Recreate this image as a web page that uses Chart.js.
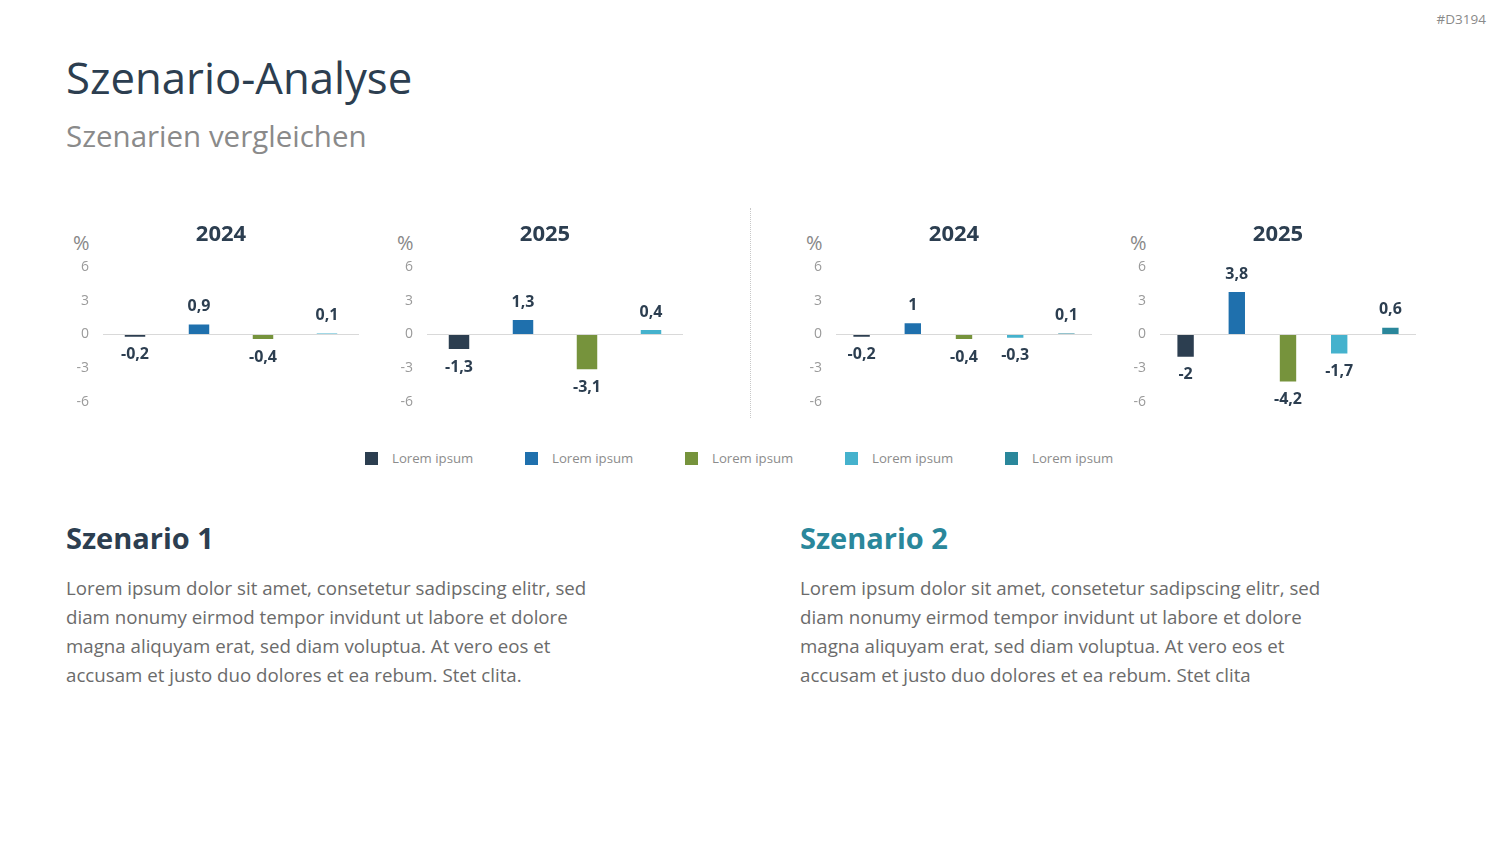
<!DOCTYPE html>
<html>
<head>
<meta charset="utf-8">
<script src="https://cdn.jsdelivr.net/npm/chart.js@4"></script>
<style>
  html, body { margin: 0; padding: 0; background: #fff; }
  body { width: 1500px; height: 844px; position: relative; overflow: hidden; font-family: "Open Sans", sans-serif; }
  .abs { position: absolute; white-space: nowrap; }
  .box { position: absolute; top: 212px; width: 310px; height: 212px; }
  .pct { position: absolute; top: 229px; font-size: 20px; color: #888; line-height: 28px; }
  .legend { position: absolute; top: 449px; left: 365px; display: flex; }
  .legend .item { width: 160px; display: flex; align-items: center; font-size: 13.2px; color: #8c8c8c; }
  .legend .sw { width: 13px; height: 13px; margin-right: 14px; }
  .para { position: absolute; top: 573px; font-size: 18.7px; line-height: 29px; color: #6b6b6b; white-space: nowrap; }
</style>
</head>
<body>

<div class="abs" style="right:14px; top:10px; font-size:13.5px; color:#8a8a8a;">#D3194</div>
<div class="abs" style="left:66px; top:49px; font-size:43.7px; line-height:56px; color:#2c3e50;">Szenario-Analyse</div>
<div class="abs" style="left:66px; top:116px; font-size:29.5px; line-height:40px; color:#8a8a8a;">Szenarien vergleichen</div>

<div class="pct" style="left:73px;">%</div>
<div class="pct" style="left:397px;">%</div>
<div class="pct" style="left:806px;">%</div>
<div class="pct" style="left:1130px;">%</div>

<div class="box" style="left:66px;"><canvas id="c1"></canvas></div>
<div class="box" style="left:390px;"><canvas id="c2"></canvas></div>
<div class="box" style="left:799px;"><canvas id="c3"></canvas></div>
<div class="box" style="left:1123px;"><canvas id="c4"></canvas></div>

<div style="position:absolute; left:750px; top:208px; height:210px; border-left:1px dotted #c8c8c8;"></div>

<div class="legend" id="legend"></div>

<div class="abs" style="left:66px; top:517px; font-size:29px; line-height:42px; font-weight:bold; color:#2c3e50;">Szenario 1</div>
<div class="abs" style="left:800px; top:517px; font-size:29px; line-height:42px; font-weight:bold; color:#2a879b;">Szenario 2</div>

<div class="para" style="left:66px;">Lorem ipsum dolor sit amet, consetetur sadipscing elitr, sed<br>diam nonumy eirmod tempor invidunt ut labore et dolore<br>magna aliquyam erat, sed diam voluptua. At vero eos et<br>accusam et justo duo dolores et ea rebum. Stet clita.</div>
<div class="para" style="left:800px;">Lorem ipsum dolor sit amet, consetetur sadipscing elitr, sed<br>diam nonumy eirmod tempor invidunt ut labore et dolore<br>magna aliquyam erat, sed diam voluptua. At vero eos et<br>accusam et justo duo dolores et ea rebum. Stet clita</div>

<script>
// categories and colours
const categories = ["Lorem ipsum", "Lorem ipsum", "Lorem ipsum", "Lorem ipsum", "Lorem ipsum"];
const colors = ["#2c3e50", "#1f70ad", "#76933c", "#45b2cd", "#2a879b"];

// scenario 1 (4 categories)
const sz1_2024 = [-0.2, 0.9, -0.4, 0.1];
const sz1_2025 = [-1.3, 1.3, -3.1, 0.4];

// scenario 2 (5 categories)
const sz2_2024 = [-0.2, 1, -0.4, -0.3, 0.1];
const sz2_2025 = [-2, 3.8, -4.2, -1.7, 0.6];

const yTicks = [-6, -3, 0, 3, 6];

function fmt(v){
    return String(v).replace(".", ",");
}

// value labels above / below bars
const valueLabels = {
    id: "valueLabels",
    afterDatasetsDraw(chart){
        const ctx = chart.ctx;
        const meta = chart.getDatasetMeta(0);
        const data = chart.data.datasets[0].data;
        ctx.save();
        ctx.font = "bold 16px 'Open Sans'";
        ctx.fillStyle = "#2c3e50";
        ctx.textAlign = "center";
        ctx.textBaseline = "middle";
        meta.data.forEach((bar, i) => {
            const v = data[i];
            const y = v >= 0 ? bar.y - 18 : bar.y + 18;
            ctx.fillText(fmt(v), bar.x, y);
        });
        ctx.restore();
    }
};

function makeChart(id, year, values){

    const n = values.length;

    new Chart(document.getElementById(id), {

        type: "bar",

        data: {
            labels: categories.slice(0, n),
            datasets: [{
                data: values,
                backgroundColor: colors.slice(0, n),
                barPercentage: 0.32,
                categoryPercentage: 1
            }]
        },

        options: {
            responsive: true,
            maintainAspectRatio: false,
            animation: false,
            layout: { padding: { bottom: 11 } },
            plugins: {
                legend: { display: false },
                tooltip: { enabled: false },
                title: {
                    display: true,
                    text: year,
                    color: "#2c3e50",
                    font: { family: "Open Sans", size: 22, weight: "bold" },
                    padding: { top: 10, bottom: 19 }
                }
            },
            scales: {
                x: { display: false },
                y: {
                    min: yTicks[0],
                    max: yTicks[yTicks.length - 1],
                    afterBuildTicks: s => { s.ticks = yTicks.map(v => ({ value: v })); },
                    afterFit: s => { s.width = 37; },
                    border: { display: false },
                    grid: {
                        drawTicks: false,
                        color: c => c.tick && c.tick.value === 0 ? "#d9d9d9" : "rgba(0,0,0,0)"
                    },
                    ticks: {
                        padding: 14,
                        color: "#9a9a9a",
                        font: { family: "Open Sans", size: 14 },
                        callback: v => fmt(v)
                    }
                },
                y2: {
                    position: "right",
                    afterFit: s => { s.width = 17; },
                    border: { display: false },
                    grid: { display: false },
                    ticks: { display: false }
                }
            }
        },

        plugins: [valueLabels]

    });
}

makeChart("c1", "2024", sz1_2024);
makeChart("c2", "2025", sz1_2025);
makeChart("c3", "2024", sz2_2024);
makeChart("c4", "2025", sz2_2025);

// legend
const legend = document.getElementById("legend");
categories.forEach((name, i) => {
    const item = document.createElement("div");
    item.className = "item";
    item.innerHTML = '<span class="sw" style="background:' + colors[i] + '"></span>' + name;
    legend.appendChild(item);
});
</script>
</body>
</html>
